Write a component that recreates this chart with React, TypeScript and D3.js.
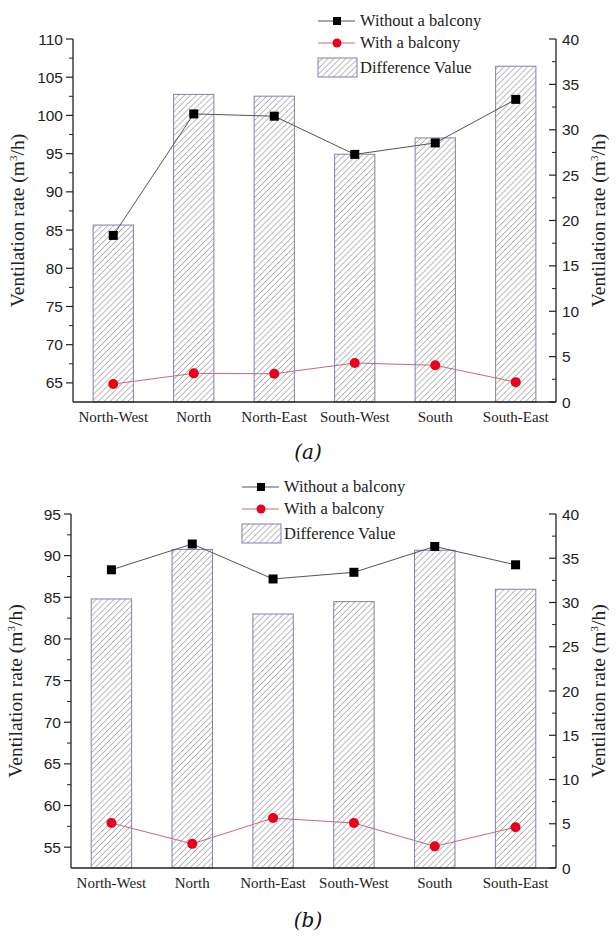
import React from "react";
import * as d3 from "d3";

const categories = ["North-West", "North", "North-East", "South-West", "South", "South-East"];

// Panel (a)
const aWithout = [84.3, 100.2, 99.9, 94.9, 96.4, 102.1];
const aWith = [64.85, 66.25, 66.2, 67.6, 67.3, 65.1];
const aDiff = [19.5, 33.9, 33.7, 27.3, 29.1, 37.0];
const aLeftTicks = [65, 70, 75, 80, 85, 90, 95, 100, 105, 110];

// Panel (b)
const bWithout = [88.3, 91.4, 87.2, 88.0, 91.1, 88.9];
const bWith = [57.9, 55.4, 58.5, 57.9, 55.1, 57.4];
const bDiff = [30.4, 36.0, 28.7, 30.1, 35.9, 31.5];
const bLeftTicks = [55, 60, 65, 70, 75, 80, 85, 90, 95];

const rightTicks = [0, 5, 10, 15, 20, 25, 30, 35, 40];
const legendLabels = ["Without a balcony", "With a balcony", "Difference Value"];

const SERIF = "'Liberation Serif', 'Times New Roman', serif";
const SANS = "'Liberation Sans', Arial, sans-serif";

type PanelProps = {
  id: string;
  x0: number; x1: number; y0: number; y1: number;
  leftDomain: [number, number];
  leftTicks: number[];
  without: number[]; withB: number[]; diff: number[];
  legendX: number; legendY: number;
  caption: string; captionY: number;
};

function Panel(p: PanelProps) {
  const x = d3.scaleBand<string>().domain(categories).range([p.x0, p.x1]).paddingInner(0.5).paddingOuter(0.25);
  const yL = d3.scaleLinear().domain(p.leftDomain).range([p.y1, p.y0]);
  const yR = d3.scaleLinear().domain([0, 40]).range([p.y1, p.y0]);
  const cx = (c: string) => (x(c) as number) + x.bandwidth() / 2;
  const lineL = d3.line<number>().x((_, i) => cx(categories[i])).y((v) => yL(v));
  const leftMinor = d3.range(p.leftDomain[0], p.leftDomain[1] + 0.01, 2.5).filter((v) => !p.leftTicks.includes(v) && v > p.leftDomain[0]);
  const rightMinor = d3.range(2.5, 40, 5);
  const midY = (p.y0 + p.y1) / 2;
  const lx = p.legendX, ly = p.legendY;
  return (
    <g>
      {categories.map((c, i) => (
        <rect key={c} x={x(c)} y={yR(p.diff[i])} width={x.bandwidth()} height={p.y1 - yR(p.diff[i])}
          fill="url(#hatch)" stroke="#8080b4" strokeWidth={1} />
      ))}
      <line x1={p.x0} x2={p.x0} y1={p.y0} y2={p.y1} stroke="#222" strokeWidth={1.3} />
      {p.leftTicks.map((t) => (
        <g key={"l" + t}>
          <line x1={p.x0 - 7} x2={p.x0} y1={yL(t)} y2={yL(t)} stroke="#222" strokeWidth={1.2} />
          <text x={p.x0 - 10} y={yL(t)} dy="0.36em" textAnchor="end" fontFamily={SANS} fontSize={15.5} fill="#222">{t}</text>
        </g>
      ))}
      {leftMinor.map((t) => (
        <line key={"lm" + t} x1={p.x0 - 4} x2={p.x0} y1={yL(t)} y2={yL(t)} stroke="#222" strokeWidth={1} />
      ))}
      <line x1={p.x1} x2={p.x1} y1={p.y0} y2={p.y1} stroke="#222" strokeWidth={1.3} />
      {rightTicks.map((t) => (
        <g key={"r" + t}>
          <line x1={p.x1 - 7} x2={p.x1} y1={yR(t)} y2={yR(t)} stroke="#222" strokeWidth={1.2} />
          <text x={p.x1 + 6} y={yR(t)} dy="0.36em" textAnchor="start" fontFamily={SANS} fontSize={15.5} fill="#222">{t}</text>
        </g>
      ))}
      {rightMinor.map((t) => (
        <line key={"rm" + t} x1={p.x1 - 4} x2={p.x1} y1={yR(t)} y2={yR(t)} stroke="#222" strokeWidth={1} />
      ))}
      <line x1={p.x0} x2={p.x1} y1={p.y1} y2={p.y1} stroke="#222" strokeWidth={1.3} />
      {categories.map((c) => (
        <text key={"c" + c} x={cx(c)} y={p.y1 + 20} textAnchor="middle" fontFamily={SERIF} fontSize={15} fill="#222">{c}</text>
      ))}
      <text transform={`translate(${p.x0 - 49},${midY}) rotate(-90)`} textAnchor="middle" fontFamily={SERIF} fontSize={19.5} fill="#222">
        Ventilation rate (m<tspan dy="-7" fontSize={11}>3</tspan><tspan dy="7">/h)</tspan>
      </text>
      <text transform={`translate(${p.x1 + 49},${midY}) rotate(-90)`} textAnchor="middle" fontFamily={SERIF} fontSize={19.5} fill="#222">
        Ventilation rate (m<tspan dy="-7" fontSize={11}>3</tspan><tspan dy="7">/h)</tspan>
      </text>
      <path d={lineL(p.without) || ""} fill="none" stroke="#555" strokeWidth={1} />
      <path d={lineL(p.withB) || ""} fill="none" stroke="#c46a7a" strokeWidth={1} />
      {p.without.map((v, i) => (
        <rect key={"s" + i} x={cx(categories[i]) - 4.5} y={yL(v) - 4.5} width={9} height={9} fill="#000" />
      ))}
      {p.withB.map((v, i) => (
        <circle key={"o" + i} cx={cx(categories[i])} cy={yL(v)} r={5} fill="#e8001c" />
      ))}
      <line x1={lx} x2={lx + 37} y1={ly} y2={ly} stroke="#555" strokeWidth={1} />
      <rect x={lx + 19 - 4} y={ly - 4} width={8} height={8} fill="#000" />
      <text x={lx + 42} y={ly} dy="0.33em" fontFamily={SERIF} fontSize={16.5} fill="#222">{legendLabels[0]}</text>
      <line x1={lx} x2={lx + 37} y1={ly + 22} y2={ly + 22} stroke="#c46a7a" strokeWidth={1} />
      <circle cx={lx + 19} cy={ly + 22} r={4.5} fill="#e8001c" />
      <text x={lx + 42} y={ly + 22} dy="0.33em" fontFamily={SERIF} fontSize={16.5} fill="#222">{legendLabels[1]}</text>
      <rect x={lx} y={ly + 37} width={39} height={19} fill="url(#hatch)" stroke="#8080b4" strokeWidth={1} />
      <text x={lx + 42} y={ly + 47} dy="0.33em" fontFamily={SERIF} fontSize={16.5} fill="#222">{legendLabels[2]}</text>
      <text x={308} y={p.captionY} textAnchor="middle" fontFamily="'DejaVu Serif', serif" fontStyle="italic" fontSize={20} fill="#111">{p.caption}</text>
    </g>
  );
}

export default function App() {
  return (
    <svg width={616} height={936} style={{ position: "absolute", left: 0, top: 0, background: "#fff" }}>
      <defs>
        <pattern id="hatch" patternUnits="userSpaceOnUse" width={4.2} height={4.2} patternTransform="rotate(45)">
          <rect width={4.2} height={4.2} fill="#fff" />
          <line x1={0} y1={0} x2={0} y2={4.2} stroke="#777" strokeWidth={1} />
        </pattern>
      </defs>
      <Panel id="a" x0={73} x1={556} y0={39} y1={402} leftDomain={[62.5, 110]} leftTicks={aLeftTicks}
        without={aWithout} withB={aWith} diff={aDiff} legendX={318} legendY={21} caption="(a)" captionY={459} />
      <Panel id="b" x0={71} x1={556} y0={514} y1={868} leftDomain={[52.5, 95]} leftTicks={bLeftTicks}
        without={bWithout} withB={bWith} diff={bDiff} legendX={242} legendY={487} caption="(b)" captionY={927} />
    </svg>
  );
}
